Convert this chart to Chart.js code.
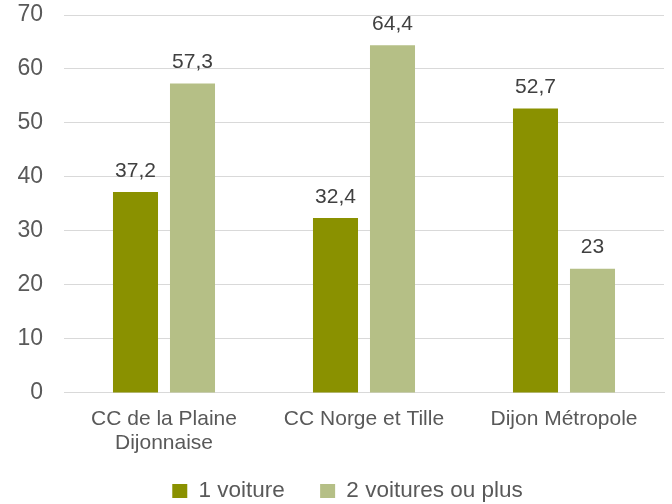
<!DOCTYPE html>
<html>
<head>
<meta charset="utf-8">
<script src="https://cdn.jsdelivr.net/npm/chart.js@4"></script>
<style>
html,body{margin:0;padding:0;background:#fff;}
#wrap{width:672px;height:504px;position:relative;}
</style>
</head>
<body>
<div id="wrap"><canvas id="c" width="672" height="504"></canvas></div>
<script>
const categories = [["CC de la Plaine","Dijonnaise"], "CC Norge et Tille", "Dijon Métropole"];
const seriesNames = ["1 voiture", "2 voitures ou plus"];
const oneCar = [37.2, 32.4, 52.7];
const twoPlus = [57.3, 64.4, 23];
const yTicks = [0, 10, 20, 30, 40, 50, 60, 70];

const FONT = "'Liberation Sans', Arial, sans-serif";
const TXT = "#595959";

const labelPlugin = {
  id: 'valueLabels',
  afterDatasetsDraw(chart) {
    const ctx = chart.ctx;
    ctx.save();
    ctx.font = "21px " + FONT;
    ctx.fillStyle = "#404040";
    ctx.textAlign = "center";
    ctx.textBaseline = "alphabetic";
    chart.data.datasets.forEach((ds, i) => {
      const meta = chart.getDatasetMeta(i);
      meta.data.forEach((bar, j) => {
        const v = ds.data[j];
        ctx.fillText(String(v).replace('.', ','), bar.x, bar.y - 15.5);
      });
    });
    ctx.restore();
  }
};

const legendNudge = {
  id: 'legendNudge',
  afterLayout(chart) {
    const lg = chart.legend;
    if (lg) { lg.top -= 24.6; lg.bottom -= 24.6; }
  }
};

new Chart(document.getElementById('c'), {
  type: 'bar',
  data: {
    labels: categories,
    datasets: [
      { label: seriesNames[0], data: oneCar, backgroundColor: '#8A9100', categoryPercentage: 0.57, barPercentage: 0.79 },
      { label: seriesNames[1], data: twoPlus, backgroundColor: '#B5BF86', categoryPercentage: 0.57, barPercentage: 0.79 }
    ]
  },
  options: {
    responsive: false,
    animation: false,
    layout: { padding: { top: 15, right: 8, left: 31, bottom: -32.8 } },
    plugins: {
      legend: {
        position: 'bottom',
        labels: { font: { family: FONT, size: 22.5 }, color: TXT, boxWidth: 15, boxHeight: 14, padding: 35.3 }
      },
      tooltip: { enabled: false }
    },
    scales: {
      x: {
        grid: { display: false, drawTicks: false },
        border: { display: true, color: '#D9D9D9', width: 1 },
        ticks: { font: { family: FONT, size: 21, lineHeight: 1.143 }, color: TXT, padding: 14, maxRotation: 0, autoSkip: false }
      },
      y: {
        min: 0, max: 70,
        afterFit(axis) { axis.width = 33; },
        afterBuildTicks(axis) { axis.ticks = yTicks.map(v => ({ value: v })); },
        grid: { color: '#D9D9D9', drawTicks: false },
        border: { display: false },
        ticks: { font: { family: FONT, size: 23 }, color: TXT, mirror: true, crossAlign: 'far', padding: -46.6 }
      }
    }
  },
  plugins: [labelPlugin, legendNudge]
});
</script>
</body>
</html>
